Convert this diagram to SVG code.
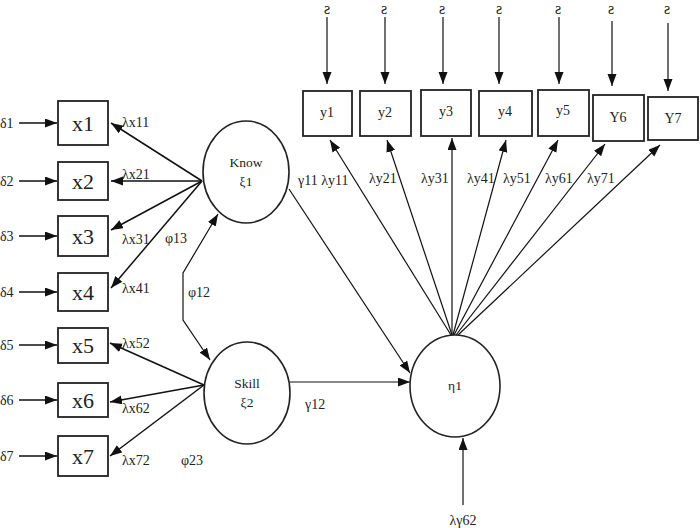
<svg xmlns="http://www.w3.org/2000/svg" width="700" height="528" viewBox="0 0 700 528" font-family="'Liberation Serif', 'Times New Roman', 'DejaVu Serif', serif">
<defs>
<marker id="ah" markerUnits="userSpaceOnUse" markerWidth="13" markerHeight="10" refX="12" refY="4.5" orient="auto-start-reverse"><path d="M0,0 L12,4.5 L0,9 z" fill="#111"/></marker>
</defs>
<style>
text{fill:#222}
.box{fill:#fff;stroke:#222;stroke-width:1.8}
.ell{fill:#fff;stroke:#222;stroke-width:1.6}
.c{fill:none;stroke:#111;stroke-width:1.5;marker-end:url(#ah)}
.t{fill:none;stroke:#111;stroke-width:1.2;marker-end:url(#ah)}
.xl{font-size:22px;text-anchor:middle}
.yl{font-size:14px;text-anchor:middle}
.lb{font-size:14px}
.nm{font-size:13.5px;text-anchor:middle}
.ep{font-size:16px;text-anchor:middle}
</style>
<g id="connectors">
<line class="c" x1="19" y1="123" x2="57" y2="123"/>
<line class="c" x1="19" y1="181" x2="57" y2="181"/>
<line class="c" x1="19" y1="236" x2="57" y2="236"/>
<line class="c" x1="19" y1="292" x2="57" y2="292"/>
<line class="c" x1="19" y1="345" x2="57" y2="345"/>
<line class="c" x1="19" y1="400" x2="57" y2="400"/>
<line class="c" x1="19" y1="456" x2="57" y2="456"/>
<line class="c" x1="202" y1="181" x2="111" y2="123"/>
<line class="c" x1="202" y1="181" x2="111" y2="181"/>
<line class="c" x1="202" y1="181" x2="111" y2="230"/>
<line class="c" x1="202" y1="181" x2="111" y2="288"/>
<line class="c" x1="204" y1="385" x2="110" y2="343"/>
<line class="c" x1="204" y1="385" x2="110" y2="402"/>
<line class="c" x1="204" y1="385" x2="110" y2="456"/>
<polyline class="t" points="183,295 183,273 218,214"/>
<polyline class="t" points="183,295 183,320 210,360"/>
<line class="t" x1="289" y1="189" x2="410" y2="373"/>
<line class="t" x1="290" y1="382" x2="410" y2="382"/>
<line class="t" x1="463" y1="505" x2="463" y2="438"/>
<line class="t" x1="327" y1="17" x2="327" y2="84"/>
<line class="t" x1="385" y1="17" x2="385" y2="84"/>
<line class="t" x1="443" y1="17" x2="443" y2="84"/>
<line class="t" x1="499" y1="17" x2="499" y2="84"/>
<line class="t" x1="559" y1="17" x2="559" y2="84"/>
<line class="t" x1="612" y1="21" x2="612" y2="86"/>
<line class="t" x1="668" y1="23" x2="668" y2="91"/>
<line class="t" x1="451" y1="335" x2="330" y2="140"/>
<line class="t" x1="452" y1="335" x2="387" y2="140"/>
<line class="t" x1="452" y1="335" x2="452" y2="138"/>
<line class="t" x1="453" y1="335" x2="506" y2="140"/>
<line class="t" x1="454" y1="335" x2="558" y2="140"/>
<line class="t" x1="456" y1="335" x2="605" y2="144"/>
<line class="t" x1="458" y1="335" x2="660" y2="145"/>
</g>
<g id="labels">
<text class="lb" x="0" y="128">δ1</text>
<text class="lb" x="0" y="186">δ2</text>
<text class="lb" x="0" y="241">δ3</text>
<text class="lb" x="0" y="297">δ4</text>
<text class="lb" x="0" y="350">δ5</text>
<text class="lb" x="0" y="405">δ6</text>
<text class="lb" x="0" y="461">δ7</text>
<text class="lb" x="122" y="127">λx11</text>
<text class="lb" x="122" y="179">λx21</text>
<text class="lb" x="122" y="244">λx31</text>
<text class="lb" x="165" y="243">φ13</text>
<text class="lb" x="122" y="293">λx41</text>
<text class="lb" x="188" y="297">φ12</text>
<text class="lb" x="122" y="348">λx52</text>
<text class="lb" x="122" y="413">λx62</text>
<text class="lb" x="122" y="465">λx72</text>
<text class="lb" x="181" y="465">φ23</text>
<text class="lb" x="305" y="409">γ12</text>
<text class="lb" x="298" y="185">γ11 λy11</text>
<text class="lb" x="369" y="183">λy21</text>
<text class="lb" x="421" y="183">λy31</text>
<text class="lb" x="467" y="183">λy41</text>
<text class="lb" x="503" y="183">λy51</text>
<text class="lb" x="545" y="183">λy61</text>
<text class="lb" x="587" y="183">λy71</text>
<text class="lb" x="463" y="525" text-anchor="middle">λγ62</text>
<text class="ep" x="327" y="14">ƨ</text>
<text class="ep" x="384" y="14">ƨ</text>
<text class="ep" x="442" y="14">ƨ</text>
<text class="ep" x="499" y="14">ƨ</text>
<text class="ep" x="558" y="14">ƨ</text>
<text class="ep" x="611" y="14">ƨ</text>
<text class="ep" x="667" y="14">ƨ</text>
</g>
<g id="x1"><rect class="box" x="58" y="101" width="50" height="44"/><text class="xl" x="83" y="131">x1</text></g>
<g id="x2"><rect class="box" x="58" y="162" width="50" height="38"/><text class="xl" x="83" y="189">x2</text></g>
<g id="x3"><rect class="box" x="58" y="216" width="50" height="40"/><text class="xl" x="83" y="244">x3</text></g>
<g id="x4"><rect class="box" x="58" y="273" width="50" height="38"/><text class="xl" x="83" y="300">x4</text></g>
<g id="x5"><rect class="box" x="58" y="328" width="50" height="35"/><text class="xl" x="83" y="353">x5</text></g>
<g id="x6"><rect class="box" x="58" y="383" width="50" height="34"/><text class="xl" x="83" y="408">x6</text></g>
<g id="x7"><rect class="box" x="58" y="436" width="50" height="40"/><text class="xl" x="83" y="464">x7</text></g>
<g id="know"><ellipse class="ell" cx="246" cy="172" rx="43" ry="51"/><text class="nm" x="246" y="167">Know</text><text class="nm" x="246" y="186">ξ1</text></g>
<g id="skill"><ellipse class="ell" cx="247" cy="393" rx="43" ry="51"/><text class="nm" x="247" y="388">Skill</text><text class="nm" x="247" y="407">ξ2</text></g>
<g id="eta1"><ellipse class="ell" cx="455" cy="386" rx="45" ry="51"/><text class="nm" x="455" y="390">η1</text></g>
<g id="y1"><rect class="box" x="303" y="91" width="49" height="45"/><text class="yl" x="327" y="117">y1</text></g>
<g id="y2"><rect class="box" x="360" y="91" width="51" height="45"/><text class="yl" x="385" y="117">y2</text></g>
<g id="y3"><rect class="box" x="421" y="90" width="50" height="46"/><text class="yl" x="446" y="116">y3</text></g>
<g id="y4"><rect class="box" x="479" y="91" width="53" height="45"/><text class="yl" x="505" y="116">y4</text></g>
<g id="y5"><rect class="box" x="538" y="90" width="51" height="46"/><text class="yl" x="563" y="115">y5</text></g>
<g id="Y6"><rect class="box" x="593" y="95" width="51" height="46"/><text class="yl" x="618" y="122">Y6</text></g>
<g id="Y7"><rect class="box" x="648" y="97" width="50" height="43"/><text class="yl" x="673" y="123">Y7</text></g>
</svg>
